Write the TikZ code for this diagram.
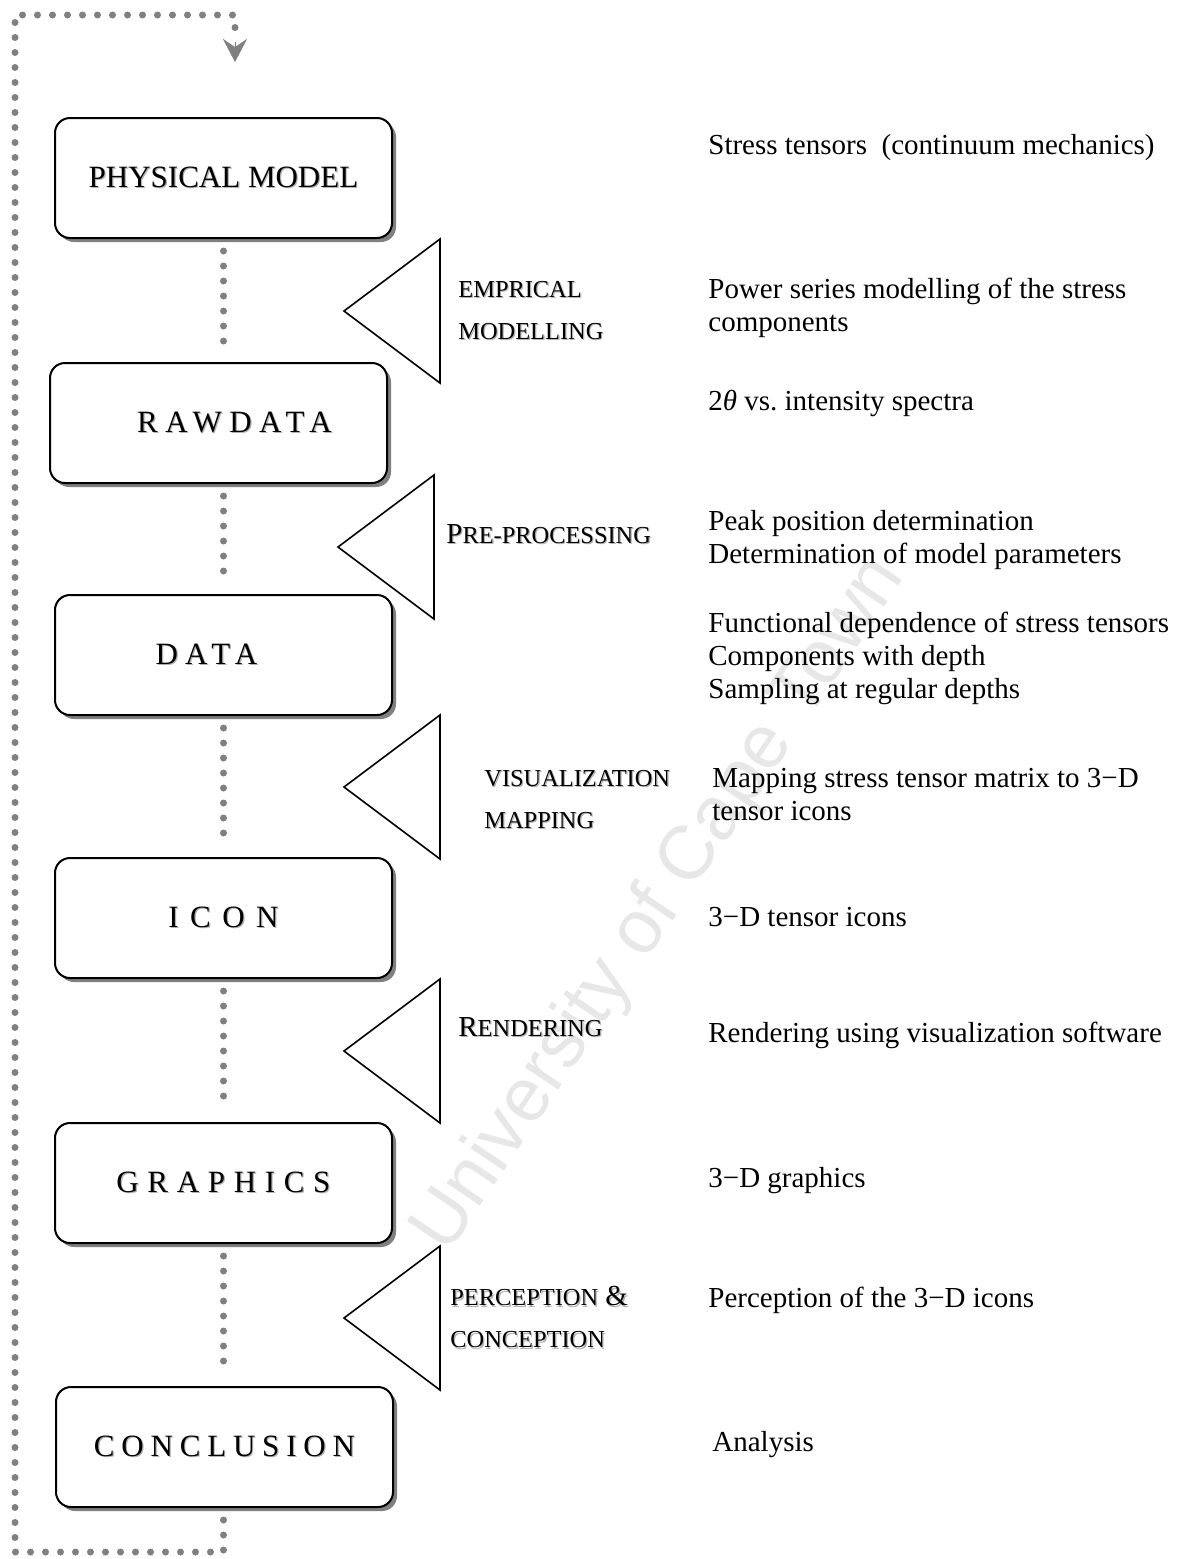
\documentclass[tikz,border=0pt]{standalone}
\usepackage{fontspec}
\setmainfont{Liberation Serif}
\newfontfamily\wmfont{Liberation Sans}
\usetikzlibrary{arrows.meta, shadows}
\definecolor{dotgray}{RGB}{128,128,128}
\definecolor{wmgray}{RGB}{231,231,231}

% Schriftschatten, gesperrte Schrift, Kapitaelchen
\newcommand\shd[1]{\makebox[0pt][l]{\kern.6pt\raisebox{-.6pt}{\textcolor{black!30}{#1}}}#1}
\newcommand\tracked[2]{{\addfontfeatures{LetterSpace=#1}#2}}
\newcommand\fsc[1]{{\fontsize{12.2pt}{21pt}\selectfont #1}}

\begin{document}
\begin{tikzpicture}[x=0.5pt, y=-0.5pt, >=Stealth,
    stage/.style={draw, line width=1pt, rounded corners=7.5pt, fill=white,
      minimum width=168.5pt, minimum height=60pt,
      font=\fontsize{15.5pt}{18pt}\selectfont,
      drop shadow={shadow xshift=2pt, shadow yshift=-2pt, opacity=1, fill=dotgray}},
    funnel/.style={draw, line width=0.8pt},
    steplabel/.style={anchor=west, align=left, inner sep=0pt, font=\fontsize{14.5pt}{21pt}\selectfont},
    note/.style={anchor=west, align=left, inner sep=0pt, font=\fontsize{14.5pt}{16.5pt}\selectfont},
    spine/.style={dotgray, line width=3.5pt, line cap=round, dash pattern=on 0pt off 7.5pt}]
  \useasboundingbox (0,0) rectangle (1186,1559);
  % Wasserzeichen
  \node[rotate=56, text=wmgray, font=\wmfont\fontsize{38pt}{38pt}\selectfont] (wm) at (660,905) {University of Cape Town};
  % Stufen
  \node[stage] (b1) at (223.5,178)  {\shd{PHYSICAL MODEL}};
  \node[stage] (b2) at (218.5,423)  {\kern16pt\shd{\tracked{24}{RAWDATA}}};
  \node[stage] (b3) at (223.5,655)  {\shd{\tracked{23}{DATA}}\kern17pt};
  \node[stage] (b4) at (223.5,918)  {\shd{\tracked{37}{ICON}}};
  \node[stage] (b5) at (223.5,1183) {\shd{\tracked{28}{GRAPHICS}}};
  \node[stage] (b6) at (224.5,1447) {\shd{\tracked{22}{CONCLUSION}}};
  % gepunktete Verbindungen
  \foreach \a/\b in {b1/b2, b2/b3, b3/b4, b4/b5, b5/b6}
    \draw[spine, shorten <=6pt, shorten >=6pt] (b1.south |- \a.south) -- (b1.south |- \b.north);
  % Rueckfuehrung
  \coordinate (loopbot) at (15,1552);
  \coordinate (looptop) at (235,15);
  \coordinate (loopend) at (235,31);
  \coordinate (looparr) at (235,42);
  \coordinate (loopin) at (235,62);
  \draw[spine, shorten <=6pt] (b1.south |- b6.south) |- (loopbot) |- (looptop) -- (loopend);
  \draw[dotgray, line width=0.1pt, -{Stealth[length=11.5pt, width=12pt, inset=4pt]}] (looparr) -- (loopin);
  % Trichter
  \foreach \tx/\ty in {344/311, 338/547, 344/787, 344/1051, 344/1318}
    \draw[funnel] (\tx,\ty) -- ++(96,-72) -- ++(0,144) -- cycle;
  % Beschriftung der Schritte
  \node[steplabel] (l1) at (458,311)  {\shd{\fsc{EMPRICAL}}\\\shd{\fsc{MODELLING}}};
  \node[steplabel] (l2) at (446,535)  {\shd{P\fsc{RE-PROCESSING}}};
  \node[steplabel] (l3) at (484,800)  {\shd{\fsc{VISUALIZATION}}\\\shd{\fsc{MAPPING}}};
  \node[steplabel] (l4) at (458,1028) {\shd{R\fsc{ENDERING}}};
  \node[steplabel] (l5) at (450,1318) {\shd{\fsc{PERCEPTION} \&}\\\shd{\fsc{CONCEPTION}}};
  % Erlaeuterungen
  \node[note] (n1)  at (708,148)  {Stress tensors\ \ (continuum mechanics)};
  \node[note] (n2)  at (708,308)  {Power series modelling of the stress\\components};
  \node[note] (n3)  at (708,403)  {2\textit{θ} vs.\ intensity spectra};
  \node[note] (n4)  at (708,540)  {Peak position determination\\Determination of model parameters};
  \node[note] (n5)  at (708,658)  {Functional dependence of stress tensors\\Components with depth\\Sampling at regular depths};
  \node[note] (n6)  at (712,795)  {Mapping stress tensor matrix to 3−D\\tensor icons};
  \node[note] (n7)  at (708,917)  {3−D tensor icons};
  \node[note] (n8)  at (708,1035) {Rendering using visualization software};
  \node[note] (n9)  at (708,1181) {3−D graphics};
  \node[note] (n10) at (708,1300) {Perception of the 3−D icons};
  \node[note] (n11) at (712,1445) {Analysis};
\end{tikzpicture}
\end{document}
